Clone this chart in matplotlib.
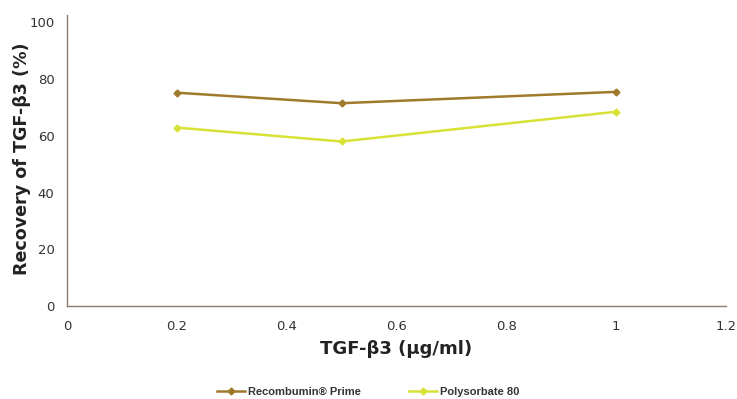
import matplotlib
matplotlib.use("Agg")
import matplotlib.pyplot as plt
from matplotlib.lines import Line2D

x_vals = [0.2, 0.5, 1.0]
recombumin = [75.2, 71.5, 75.5]
polysorbate = [62.9, 58.0, 68.5]
series_names = ["Recombumin® Prime", "Polysorbate 80"]
x_ticks = [0, 0.2, 0.4, 0.6, 0.8, 1, 1.2]
x_tick_labels = ["0", "0.2", "0.4", "0.6", "0.8", "1", "1.2"]
y_ticks = [0, 20, 40, 60, 80, 100]

c1 = "#a07a2c"
c2 = "#d8e236"

W, H = 737, 399
left_px, right_px, top_px, bottom_px = 67, 726, 15, 306
fig = plt.figure(figsize=(W / 100, H / 100), dpi=100)
ax = fig.add_axes([left_px / W, 1 - bottom_px / H, (right_px - left_px) / W, (bottom_px - top_px) / H])
ax.plot(x_vals, recombumin, color=c1, lw=1.8, marker="D", ms=3.5, label=series_names[0])
ax.plot(x_vals, polysorbate, color=c2, lw=1.8, marker="D", ms=3.5, label=series_names[1])
ax.set_xlim(0, 1.2)
ax.set_ylim(0, 102.6)
ax.set_xticks(x_ticks)
ax.set_xticklabels(x_tick_labels)
ax.set_yticks(y_ticks)
for s in ["top", "right"]:
    ax.spines[s].set_visible(False)
for s in ["left", "bottom"]:
    ax.spines[s].set_color("#8a7a70")
    ax.spines[s].set_linewidth(1.0)
ax.tick_params(length=0, labelsize=9.5, labelcolor="#333333", pad=10)
ax.tick_params(axis="y", pad=9)
ax.set_xlabel("TGF-β3 (µg/ml)", fontsize=13, fontweight="bold", color="#222222", labelpad=5)
ax.set_ylabel("Recovery of TGF-β3 (%)", fontsize=12.6, fontweight="bold", color="#222222", va="center")
ax.yaxis.set_label_coords((22 - left_px) / (right_px - left_px), 0.505)

handles = [Line2D([], [], color=c1, lw=1.8, marker="D", ms=3.5),
           Line2D([], [], color=c2, lw=1.8, marker="D", ms=3.5)]
fig.legend(handles, series_names, loc="center", bbox_to_anchor=(0.5, 1 - 392 / H), ncol=2,
           frameon=False, prop={"family": "Liberation Sans", "weight": "bold", "size": 8},
           handlelength=2.5, columnspacing=4.3, handletextpad=0.3, labelcolor="#333333")
fig.savefig("out.png", dpi=100)
